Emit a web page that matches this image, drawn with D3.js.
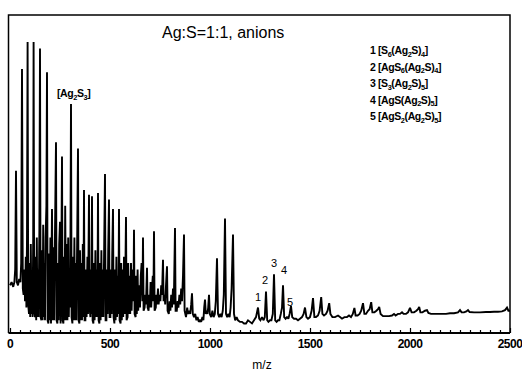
<!DOCTYPE html>
<html>
<head>
<meta charset="utf-8">
<script src="https://cdn.jsdelivr.net/npm/d3@7"></script>
<style>
  html, body { margin: 0; padding: 0; background: #fff; }
  svg { display: block; }
  text { font-family: Arial, "Liberation Sans", sans-serif; fill: #000; }
</style>
</head>
<body>
<div id="chart"></div>
<script>
// spectrum trace: [m/z, relative intensity]
const lowMassTrace = [
  [0, 15], [8, 16], [16, 14.5], [22, 16], [26, 20], [30, 51], [34, 16], [40, 15], [46, 17], [52, 16], [56, 22], [60, 83], [64, 14],
  [68, 12], [72, 20], [75, 10], [79, 24], [82, 8], [85, 30], [88, 91.5], [91, 9],
  [95, 6], [98, 22], [101, 5], [104, 28], [107, 6], [110, 18], [113, 5], [116, 30], [118, 91.5], [121, 7],
  [125, 5], [128, 24], [131, 4], [134, 30], [137, 5], [140, 20], [143, 5], [147, 33], [150, 89.5], [153, 5],
  [157, 4], [160, 26], [163, 4], [166, 34], [169, 5], [172, 22], [175, 4], [178, 30], [182, 40], [185, 82], [188, 4],
  [192, 3], [195, 25], [198, 4], [202, 30], [205, 3], [210, 39], [214, 4], [218, 27], [221, 4], [225, 32], [230, 60], [233, 4],
  [237, 3], [240, 22], [243, 4], [246, 28], [250, 35], [253, 3], [257, 26], [260, 55.5], [263, 4],
  [267, 3], [270, 24], [273, 4], [276, 40], [280, 4], [284, 28], [287, 4], [291, 30], [294, 5], [298, 20], [301, 8], [305, 72], [308, 5],
  [312, 3], [315, 24], [318, 4], [322, 30], [325, 4], [329, 22], [332, 4], [336, 30], [340, 58], [343, 4],
  [347, 3], [350, 26], [353, 4], [357, 22], [360, 4], [364, 28], [367, 5], [370, 45], [373, 4],
  [377, 4], [380, 20], [383, 5], [387, 24], [390, 6], [395, 43.5], [398, 8],
  [402, 5], [405, 20], [407, 6], [410, 43], [413, 4],
  [417, 3], [420, 22], [423, 4], [427, 26], [430, 5], [434, 20], [437, 5], [440, 44], [443, 4],
  [447, 3], [450, 22], [453, 4], [457, 26], [460, 5], [464, 20], [467, 5], [471, 28], [475, 50], [478, 4],
  [482, 4], [485, 20], [488, 6], [491, 26], [495, 42], [498, 5],
  [502, 5], [505, 20], [508, 6], [511, 24], [515, 39], [518, 5],
  [522, 3], [525, 20], [528, 4], [532, 24], [535, 5], [539, 18], [542, 6], [545, 39], [548, 4],
  [553, 3], [556, 22], [559, 4], [563, 20], [566, 5], [570, 24], [574, 6], [577, 20], [580, 36.5], [583, 4],
  [588, 5], [591, 22], [594, 6], [598, 18], [601, 6], [605, 22], [608, 7], [613, 20], [617, 10], [620, 32.5], [623, 6],
  [628, 5], [631, 18], [634, 6], [638, 20], [641, 7], [646, 15], [650, 8], [654, 18], [658, 22], [662, 10], [665, 30], [668, 7],
  [673, 8], [677, 12], [680, 9], [685, 20.5], [688, 8],
  [693, 7], [696, 12], [699, 8], [703, 16], [706, 8], [710, 14], [714, 18], [717, 10], [720, 32], [723, 7],
  [729, 8], [732, 12], [735, 9], [740, 14], [743, 9], [748, 12], [752, 10], [756, 15], [760, 12], [765, 23], [768, 10],
  [773, 12], [776, 9], [780, 15], [785, 21], [788, 7],
  [794, 6], [798, 10], [802, 7], [806, 12], [810, 8], [815, 14], [819, 9], [825, 33], [828, 7],
  [834, 7], [838, 10], [842, 8], [847, 12], [851, 9], [856, 14], [860, 10], [865, 18], [870, 31], [873, 7],
  [880, 5], [886, 8], [890, 6], [896, 7], [901, 6], [906, 9], [910, 12.5], [914, 6],
  [920, 5], [926, 6], [932, 4], [938, 5], [944, 3.5], [950, 4], [956, 3.5], [962, 5], [967, 4], [971, 8], [975, 10.5],
  [979, 6], [983, 7], [987, 6], [991, 8], [995, 12], [999, 6],
  [1006, 5], [1012, 7], [1018, 5], [1024, 6], [1029, 10], [1035, 23.5], [1040, 6], [1046, 5], [1052, 6], [1058, 5],
  [1064, 7], [1069, 12], [1075, 36], [1080, 6], [1086, 5], [1092, 6], [1098, 5], [1103, 8], [1108, 14], [1115, 31],
  [1120, 6], [1126, 4], [1133, 5], [1140, 4]
];

const highMassTrace = [
  [1150, 3.5], [1160, 3.5], [1170, 3], [1180, 3], [1190, 4], [1200, 3.5], [1210, 3], [1220, 4], [1230, 5],
  [1240, 8], [1246, 4.5], [1252, 4], [1260, 5], [1268, 4], [1274, 5], [1280, 13], [1286, 4], [1292, 3.5], [1300, 4],
  [1307, 4], [1314, 6], [1320, 18.5], [1326, 4], [1333, 3.5], [1340, 4], [1347, 4], [1354, 6], [1360, 8], [1365, 15],
  [1371, 5], [1378, 4.5], [1385, 5], [1392, 4.5], [1398, 6], [1405, 8.5], [1411, 5], [1420, 4.5], [1430, 4.5], [1440, 4],
  [1450, 4.5], [1460, 5], [1468, 6], [1475, 8], [1482, 5], [1490, 4.5], [1500, 5], [1508, 7], [1515, 11], [1522, 5],
  [1530, 5], [1540, 5.5], [1548, 7], [1556, 11.3], [1562, 6], [1570, 5.5], [1580, 6], [1588, 7], [1596, 9.4], [1602, 6],
  [1612, 5], [1625, 5], [1640, 5.5], [1650, 5], [1660, 4.5], [1672, 5], [1685, 5], [1695, 5.5], [1705, 5], [1714, 6],
  [1722, 7.9], [1728, 5.5], [1738, 5.5], [1748, 6], [1756, 7], [1765, 9.4], [1772, 6], [1780, 6], [1790, 7], [1798, 7.5],
  [1806, 9.7], [1812, 6.5], [1822, 6.5], [1832, 7], [1840, 7.5], [1846, 8.2], [1853, 6], [1865, 5.3], [1880, 5.3], [1895, 5.3],
  [1910, 5.5], [1920, 6], [1928, 5.5], [1940, 6], [1950, 6], [1960, 6.5], [1968, 6], [1980, 6], [1990, 6.5], [2000, 7.9],
  [2008, 6.5], [2020, 6.5], [2032, 7], [2040, 7.5], [2046, 8.2], [2052, 6.5], [2062, 6.5], [2075, 7], [2085, 7.2], [2092, 6.3],
  [2105, 6], [2120, 6], [2140, 6], [2160, 6], [2180, 6], [2200, 6.2], [2220, 6.2], [2240, 6.5], [2250, 7.2], [2258, 6.5],
  [2270, 6.5], [2282, 6.8], [2290, 7.2], [2298, 6.6], [2320, 6.5], [2350, 6.5], [2380, 6.6], [2400, 6.6], [2420, 6.7], [2440, 6.7],
  [2460, 6.8], [2475, 7.2], [2485, 8], [2492, 7], [2500, 7]
];

const xTicks = [0, 500, 1000, 1500, 2000, 2500];
const xTickLabels = ["0", "500", "1000", "1500", "2000", "2500"];

// numbered peaks: [label, m/z, intensity at label baseline]
const peakLabels = [
  ["1", 1240, 10], ["2", 1275, 15.5], ["3", 1320, 20.8], ["4", 1370, 18.5], ["5", 1400, 8.5]
];

// legend rows: [text, isSubscript]
const legendRows = [
  [["1 [S", 0], ["6", 1], ["(Ag", 0], ["2", 1], ["S)", 0], ["4", 1], ["]", 0]],
  [["2 [AgS", 0], ["6", 1], ["(Ag", 0], ["2", 1], ["S)", 0], ["4", 1], ["]", 0]],
  [["3 [S", 0], ["3", 1], ["(Ag", 0], ["2", 1], ["S)", 0], ["5", 1], ["]", 0]],
  [["4 [AgS(Ag", 0], ["2", 1], ["S)", 0], ["5", 1], ["]", 0]],
  [["5 [AgS", 0], ["2", 1], ["(Ag", 0], ["2", 1], ["S)", 0], ["5", 1], ["]", 0]]
];
const ag2s3Label = [["[Ag", 0], ["2", 1], ["S", 0], ["3", 1], ["]", 0]];

const W = 522, H = 371;
const plot = { left: 8.5, right: 510, top: 15, bottom: 333 };

const svg = d3.select('#chart').append('svg')
  .attr('width', W)
  .attr('height', H);

const x = d3.scaleLinear().domain([0, 2500]).range([10, 510]);
const y = d3.scaleLinear().domain([0, 100]).range([plot.bottom, plot.top]);

// frame
svg.append('path')
  .attr('d', `M${plot.left},${plot.bottom} V${plot.top} H${plot.right} V${plot.bottom}`)
  .attr('fill', 'none')
  .attr('stroke', '#000')
  .attr('stroke-width', 1.5);

// spectrum
const line = d3.line()
  .x(d => x(d[0]))
  .y(d => y(d[1]));

svg.append('path')
  .datum(lowMassTrace.concat(highMassTrace))
  .attr('d', line)
  .attr('fill', 'none')
  .attr('stroke', '#000')
  .attr('stroke-width', 1.9)
  .attr('stroke-linejoin', 'miter')
  .attr('stroke-miterlimit', 2);

// x axis, ticks pointing inwards
const axis = svg.append('g')
  .attr('transform', `translate(0, ${plot.bottom})`)
  .call(d3.axisBottom(x)
    .tickValues(d3.range(0, 2501, 50))
    .tickSize(-3)
    .tickFormat(''));
axis.select('.domain')
  .attr('d', `M${plot.left},0 H${plot.right}`)
  .attr('stroke-width', 2);
axis.selectAll('.tick line')
  .attr('stroke-width', 1.2)
  .attr('y2', d => d % 500 === 0 ? -5 : -3);

svg.append('g')
  .selectAll('text')
  .data(xTicks)
  .enter()
  .append('text')
  .attr('x', d => x(d))
  .attr('y', 348)
  .attr('text-anchor', 'middle')
  .style('font-family', '"Liberation Sans Narrow", "Arial Narrow", Arial, sans-serif')
  .style('font-weight', 'bold')
  .style('font-size', '12px')
  .style('letter-spacing', '-0.5px')
  .text((d, i) => xTickLabels[i]);

svg.append('text')
  .attr('x', 262)
  .attr('y', 369)
  .attr('text-anchor', 'middle')
  .style('font-size', '12px')
  .text('m/z');

// title
svg.append('text')
  .attr('x', 162)
  .attr('y', 38)
  .style('font-size', '16px')
  .text('Ag:S=1:1, anions');

// text with subscripts
const richText = (g, parts, px, py, size) => {
  const t = g.append('text')
    .attr('x', px)
    .attr('y', py)
    .style('font-size', size + 'px')
    .style('font-weight', 'bold')
    .style('letter-spacing', '-0.4px');
  let low = false;
  parts.forEach(p => {
    const sub = !!p[1];
    t.append('tspan')
      .attr('dy', sub === low ? 0 : (sub ? 2.5 : -2.5))
      .style('font-size', sub ? (size * 0.7) + 'px' : null)
      .text(p[0]);
    low = sub;
  });
  return t;
};

const legend = svg.append('g').attr('id', 'legend');
legendRows.forEach((row, i) => {
  richText(legend, row, 370, 54 + i * 16.6, 10.5);
});

richText(svg, ag2s3Label, 57, 97, 10.5);

svg.append('g')
  .selectAll('text')
  .data(peakLabels)
  .enter()
  .append('text')
  .attr('x', d => x(d[1]))
  .attr('y', d => y(d[2]))
  .attr('text-anchor', 'middle')
  .style('font-size', '11px')
  .style('fill', '#000')
  .text(d => d[0]);
</script>
</body>
</html>
